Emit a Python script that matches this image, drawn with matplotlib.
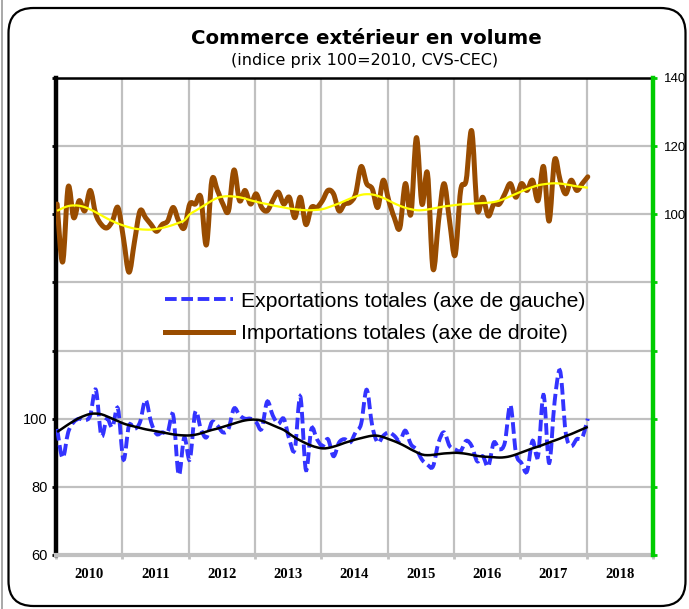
import numpy as np
import matplotlib
matplotlib.use('Agg')
import matplotlib.pyplot as plt
from matplotlib.patches import FancyBboxPatch, PathPatch
from matplotlib.lines import Line2D
from matplotlib.path import Path

# monthly data, Jan 2010 -> Jan 2018
exports = [97, 88.5, 96, 99, 100, 99.5, 101, 108.5, 95, 100, 97.5, 103,
           88, 98, 97, 99, 105.5, 99, 95.5, 96, 96, 101, 83.5, 94.5,
           88, 102, 97, 94.5, 99, 98, 96, 97, 103, 101, 100, 100,
           99, 97, 105, 101, 98.5, 100, 94, 91, 106.5, 85, 97, 94,
           92, 94, 89, 93, 94, 93, 96, 98.5, 108.5, 98, 93, 95,
           96, 95, 93.5, 96.5, 92.5, 91, 88, 86.5, 86, 93, 96, 92,
           91, 90.5, 93.5, 92, 87.5, 89, 86, 93, 91, 93, 104, 90,
           87, 84.5, 93.5, 89, 107, 87, 105, 114, 96, 92, 94, 94.5,
           100]
exports_trend = [96.1, 97.2, 98.3, 99.3, 100.2, 100.9, 101.4, 101.5, 101.3, 100.7, 100.0, 99.3,
                 98.6, 98.1, 97.7, 97.3, 96.9, 96.6, 96.3, 96.0, 95.7, 95.4, 95.2, 95.1,
                 95.1, 95.3, 95.7, 96.2, 96.7, 97.1, 97.6, 98.1, 98.6, 99.1, 99.5, 99.7,
                 99.7, 99.4, 98.8, 98.1, 97.4, 96.7, 95.6, 94.5, 93.6, 92.8, 92.1, 91.6,
                 91.3, 91.4, 91.8, 92.3, 92.9, 93.4, 93.9, 94.3, 94.7, 95.0, 95.0, 94.6,
                 94.0, 93.4, 92.7, 91.9, 91.0, 90.2, 89.5, 89.3, 89.4, 89.6, 89.8, 89.9,
                 90.0, 89.9, 89.7, 89.4, 89.1, 88.9, 88.8, 88.7, 88.6, 88.7, 89.0, 89.5,
                 90.1, 90.7, 91.3, 91.8, 92.4, 93.0, 93.6, 94.2, 94.9, 95.5, 96.2, 96.9,
                 97.6]
imports = [103, 86, 108, 99, 104, 101, 107, 100, 97, 96, 98, 102,
           93, 83, 92, 101, 99, 97, 95, 97, 98, 102, 98, 96,
           103, 103, 105, 91, 110, 107, 103, 101, 113, 104, 107, 103,
           106, 102, 101, 104, 106.5, 103, 105, 99, 105, 97, 102, 102,
           104, 107, 106, 101, 103, 103.5, 106, 114, 109, 107.5, 102, 110,
           104, 99, 96, 109, 100, 122.5, 103, 112, 84, 98, 109, 98,
           88, 107, 110, 124.5, 101.5, 105, 99.5, 103, 103, 106, 109, 105,
           109, 107, 110, 104, 114, 98, 116, 110, 106, 110, 107, 109,
           111]
imports_trend = [101.0, 101.8, 102.4, 102.6, 102.5, 102.1, 101.4, 100.6, 99.7, 98.8, 98.0, 97.3,
                 96.7, 96.2, 95.8, 95.6, 95.5, 95.5, 95.7, 96.0, 96.4, 96.9, 97.5, 98.2,
                 100.0, 101.0, 102.0, 103.0, 104.0, 104.8, 105.2, 105.3, 105.2, 105.0, 104.6, 104.1,
                 103.7, 103.3, 103.0, 102.6, 102.3, 102.0, 101.7, 101.5, 101.3, 101.2, 101.2, 101.3,
                 101.5, 102.0, 102.6, 103.2, 103.9, 104.6, 105.2, 105.7, 105.9, 105.8, 105.4, 104.8,
                 104.0, 103.2, 102.5, 101.9, 101.5, 101.2, 101.2, 101.4, 101.7, 102.0, 102.3, 102.5,
                 102.7, 102.9, 103.0, 103.1, 103.2, 103.3, 103.4, 103.6, 104.0, 104.6, 105.3, 106.0,
                 106.7, 107.4, 108.0, 108.5, 108.8, 109.0, 109.1, 109.0, 108.8, 108.5, 108.2, 108.0,
                 107.8]
years = list(range(2010, 2019))

x = 2010 + (np.arange(len(exports)) + 0.2) / 12


def smooth(xs, ys):
    # excel-like "smoothed line": cubic bezier through each data point
    pts = np.column_stack([xs, ys])
    n = len(pts)
    verts, codes = [pts[0]], [Path.MOVETO]
    for i in range(n - 1):
        p0, p1 = pts[max(i - 1, 0)], pts[i]
        p2, p3 = pts[i + 1], pts[min(i + 2, n - 1)]
        verts += [p1 + (p2 - p0) / 6, p2 - (p3 - p1) / 6, p2]
        codes += [Path.CURVE4] * 3
    return Path(verts, codes)


W, H = 689, 609
fig = plt.figure(figsize=(W / 100, H / 100), dpi=100)

# rounded frame around the whole chart
fig.patches.append(FancyBboxPatch((0.085, 0.03), 6.77, 5.98,
                                  boxstyle="round,pad=0,rounding_size=0.25",
                                  transform=fig.dpi_scale_trans, fill=False,
                                  ec='black', lw=1.6))
fig.add_artist(Line2D([1.5 / W, 1.5 / W], [0, 1], color='#999999', lw=1.2))

ax = fig.add_axes([56 / W, 1 - 555 / H, (653 - 56) / W, (555 - 78) / H])
ax2 = ax.twinx()

grid_c = '#c0c0c0'
ax.set_xlim(2010, 2019)
ax.set_ylim(60, 200)
ax2.set_ylim(0, 140)

ax.set_xticks(range(2010, 2020))
ax.set_xticklabels([])
ax.set_xticks([y + 0.5 for y in years], minor=True)
ax.set_xticklabels([str(y) for y in years], minor=True,
                   fontfamily='Liberation Serif', fontweight='bold', fontsize=10.5)
ax.tick_params(axis='x', which='major', length=3, width=2, color=grid_c)
ax.tick_params(axis='x', which='minor', length=0, pad=9)

ax.set_yticks(range(60, 201, 20))
ax.set_yticklabels(['60', '80', '100', '', '', '', '', ''],
                   fontfamily='Liberation Sans', fontsize=10.5)
ax.tick_params(axis='y', length=3, width=2, color='black', pad=3)

ax2.set_yticks(range(0, 141, 20))
ax2.set_yticklabels(['', '', '', '', '', '100', '120', '140'],
                    fontfamily='Liberation Sans', fontsize=9.5)
ax2.tick_params(axis='y', length=3, width=2, color='#00cc00', pad=5)

ax.grid(True, which='major', color=grid_c, lw=1.6)
ax.set_axisbelow(True)

ax.spines['left'].set_linewidth(3.2)
ax.spines['left'].set_color('black')
ax.spines['top'].set_linewidth(1.8)
ax.spines['bottom'].set_linewidth(3)
ax.spines['bottom'].set_color(grid_c)
for s in ['left', 'top', 'bottom']:
    ax2.spines[s].set_visible(False)
ax.spines['right'].set_visible(False)
ax2.spines['right'].set_linewidth(3.2)
ax2.spines['right'].set_color('#00cc00')

blue_c, brown_c = '#3333ff', '#994c00'
ax.add_patch(PathPatch(smooth(x, exports), fill=False, ec=blue_c, lw=2.8,
                       linestyle=(0, (3, 1.2)), capstyle='butt', zorder=3))
ax.add_patch(PathPatch(smooth(x, exports_trend), fill=False, ec='black', lw=1.8, zorder=4))
ax2.add_patch(PathPatch(smooth(x, imports), fill=False, ec=brown_c, lw=3.6,
                        joinstyle='round', capstyle='round', zorder=3))
ax2.add_patch(PathPatch(smooth(x, imports_trend), fill=False, ec='#ffff00', lw=1.6, zorder=4))

h_exp = Line2D([], [], color=blue_c, lw=2.8, dashes=(3, 1.2))
h_imp = Line2D([], [], color=brown_c, lw=3.6)
ax2.legend([h_exp, h_imp],
           ['Exportations totales (axe de gauche)', 'Importations totales (axe de droite)'],
           loc='center left', bbox_to_anchor=(165 / W, 1 - 317.5 / H),
           bbox_transform=fig.transFigure, frameon=False, borderpad=0,
           borderaxespad=0, handlelength=3.2, handletextpad=0.38,
           labelspacing=0.64, prop={'family': 'Liberation Sans', 'size': 15.2})

fig.text(366 / W, 1 - 38 / H, 'Commerce extérieur en volume', ha='center', va='center',
         fontsize=14.2, fontweight='bold', fontfamily='DejaVu Sans')
fig.text(365 / W, 1 - 61 / H, '(indice prix 100=2010, CVS-CEC)', ha='center', va='center',
         fontsize=11.5, fontfamily='DejaVu Sans')

fig.savefig('out.png', dpi=100)
